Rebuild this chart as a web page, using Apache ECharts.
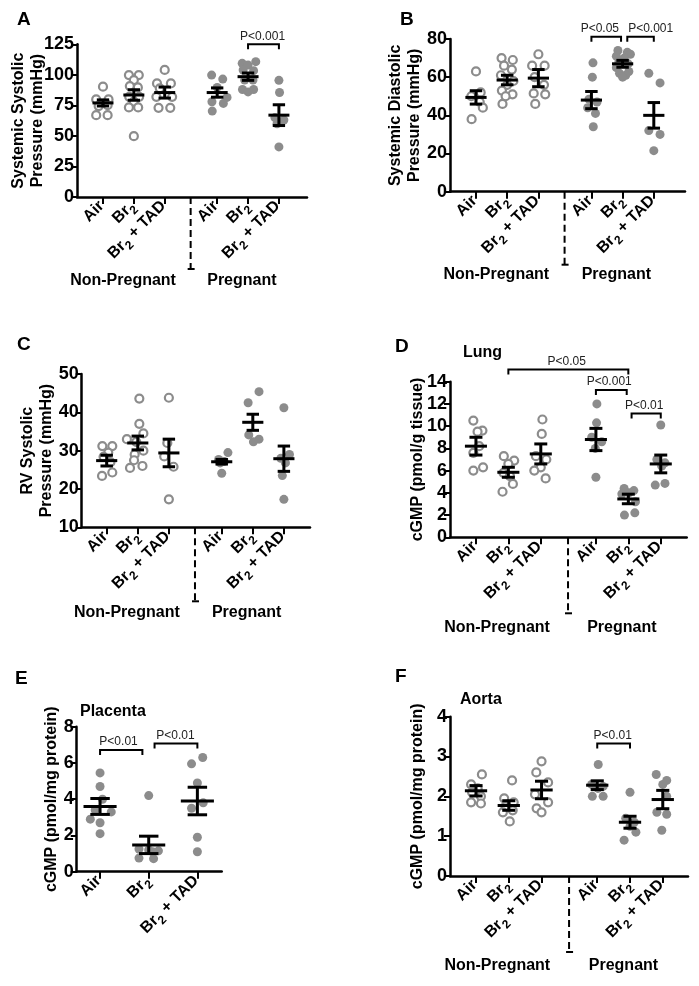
<!DOCTYPE html>
<html><head><meta charset="utf-8">
<script src="https://cdn.jsdelivr.net/npm/echarts@6/dist/echarts.min.js"></script>
<style>html,body{margin:0;padding:0;background:#fff}#c{width:699px;height:986px}</style>
</head><body><div id="c"></div>
<script>
// ---------------- DATA ----------------
const catLabels6 = ['Air', 'Br2', 'Br2 + TAD', 'Air', 'Br2', 'Br2 + TAD'];
const catLabels3 = ['Air', 'Br2', 'Br2 + TAD'];
const groupNames = ['Non-Pregnant', 'Pregnant'];

// Panel A: Systemic systolic pressure
const A_yAxis = [0, 125, 25];
const A_yName = 'Systemic Systolic\nPressure (mmHg)';
const A_values = [
  [90.3, 79.9, 79.9, 75.2, 74.4, 67, 67],
  [99.8, 99.8, 95.7, 90.8, 89.7, 82, 82, 78, 73.3, 73.3, 49.8],
  [104, 93, 93, 89, 82, 82, 73, 73],
  [99.8, 96.5, 89.7, 81.5, 78, 76.6, 70.3],
  [110.8, 109.4, 108, 104, 103.4, 95.7, 95.7, 88, 88, 86],
  [95.5, 85.5, 65, 63, 60, 41]
];
const A_jitter = [
  [0, -0.22, 0.18, 0.15, -0.14, -0.22, 0.15],
  [-0.16, 0.16, 0, -0.13, 0.13, -0.15, 0.17, 0, -0.16, 0.14, 0],
  [0, -0.25, 0.2, -0.16, 0.24, -0.27, -0.2, 0.18],
  [-0.18, 0.18, 0, 0.32, -0.17, 0.2, -0.16],
  [0.25, -0.19, 0, -0.16, 0.18, -0.11, 0.16, -0.18, 0.18, 0],
  [0, 0.02, -0.13, 0.16, -0.06, 0]
];
const A_mean = [77, 83.5, 85.5, 85.5, 98.5, 67];
const A_sem = [2.5, 4.3, 4.5, 3.8, 3.0, 8.5];
// [from, to, height, text, text centre]
const A_brackets = [[5.7, 6.7, 125, 'P<0.001', 6.17]];

// Panel B: Systemic diastolic pressure
const B_yAxis = [0, 80, 20];
const B_yName = 'Systemic Diastolic\nPressure (mmHg)';
const B_values = [
  [63, 52, 50, 47, 44, 38],
  [70, 69, 66, 64, 61, 58, 56, 53, 51, 50, 46],
  [72, 66, 66, 60, 56, 51.5, 51, 46],
  [67.5, 60, 48.5, 47, 44, 41, 34],
  [74, 73, 72, 71, 70, 68, 67, 65, 63, 62, 61, 60],
  [62, 57, 32, 30, 21.5]
];
const B_jitter = [
  [0, 0.15, -0.15, 0.12, 0.22, -0.14],
  [-0.18, 0.18, -0.1, 0.15, -0.2, 0.2, 0, -0.17, 0.17, -0.05, -0.15],
  [0, -0.2, 0.2, -0.12, 0.18, -0.15, 0.22, -0.1],
  [0.05, 0.03, -0.08, 0.18, -0.12, 0.13, 0.06],
  [-0.15, 0.15, 0.25, -0.2, 0.05, -0.12, 0.18, -0.2, 0.2, -0.1, 0.1, 0],
  [-0.16, 0.2, -0.16, 0.2, 0]
];
const B_mean = [49.4, 58.5, 59.5, 48, 67, 40];
const B_sem = [3.5, 2.5, 4.5, 4.5, 1.8, 6.7];
const B_brackets = [[4.7, 5.65, 81.2, 'P<0.05', 4.97], [5.85, 6.7, 81.2, 'P<0.001', 6.6]];

// Panel C: RV systolic pressure
const C_yAxis = [10, 50, 10];
const C_yName = 'RV Systolic\nPressure (mmHg)';
const C_values = [
  [31.2, 31.2, 29.5, 28.4, 27, 24.3, 23.4],
  [43.6, 37, 34.5, 33, 32.3, 30, 29, 27.5, 26, 25.5],
  [43.8, 32, 28.5, 25.8, 17.3],
  [29.5, 27.7, 27.2, 26.8, 24.1],
  [45.4, 42.5, 34.1, 33, 32.3],
  [41.2, 29, 28, 26.8, 23.5, 17.3]
];
const C_jitter = [
  [-0.14, 0.18, 0.05, -0.1, 0.12, 0.18, -0.15],
  [0.05, 0.05, 0.18, -0.35, -0.05, 0.18, -0.1, -0.12, 0.15, -0.25],
  [0, -0.05, -0.15, 0.15, 0],
  [0.2, -0.1, 0.08, -0.05, 0],
  [0.2, -0.15, -0.13, 0.2, 0.02],
  [0, 0.18, -0.1, 0.05, -0.05, 0]
];
const C_mean = [27.4, 32, 29.4, 27.1, 37.4, 27.9];
const C_sem = [1.4, 1.8, 3.6, 0.6, 2.1, 3.3];
const C_brackets = [];

// Panel D: Lung cGMP
const D_yAxis = [0, 14, 2];
const D_yName = 'cGMP (pmol/g tissue)';
const D_title = 'Lung';
const D_values = [
  [10.5, 9.6, 9.5, 8.2, 7.6, 6.3, 6.0],
  [7.3, 6.9, 6.6, 5.8, 5.5, 4.8, 4.1],
  [10.6, 9.3, 7.3, 7.0, 6.3, 6.0, 5.3],
  [12, 10.3, 9.0, 8.6, 8.0, 5.4],
  [4.4, 4.2, 4.0, 3.9, 3.2, 2.2, 2.0],
  [10.1, 7.0, 6.7, 6.4, 4.85, 4.7]
];
const D_jitter = [
  [-0.08, 0.2, 0.05, 0.1, -0.08, 0.22, -0.08],
  [-0.14, 0.18, 0, -0.15, 0.05, 0.14, -0.18],
  [0.05, 0.03, -0.15, 0.17, 0, -0.2, 0.15],
  [0.03, 0.02, -0.13, 0.18, -0.02, 0],
  [-0.13, 0.17, 0.02, -0.2, 0.22, 0.2, -0.12],
  [0, -0.12, 0.13, 0.03, 0.13, -0.17]
];
const D_mean = [8.2, 5.85, 7.5, 8.8, 3.45, 6.6];
const D_sem = [0.8, 0.45, 0.9, 1.0, 0.43, 0.8];
const D_brackets = [[2, 5.7, 15.1, 'P<0.05', 3.8], [4.7, 5.65, 13.25, 'P<0.001', 5.11], [5.8, 6.7, 11.15, 'P<0.01', 6.19]];

// Panel E: Placenta cGMP
const E_yAxis = [0, 8, 2];
const E_yName = 'cGMP (pmol/mg protein)';
const E_title = 'Placenta';
const E_values = [
  [5.45, 4.7, 4.0, 3.4, 3.3, 2.9, 2.7, 2.1],
  [4.2, 1.25, 1.2, 1.15, 1.1, 0.75, 0.72],
  [6.3, 5.95, 4.9, 3.8, 3.5, 1.9, 1.1]
];
const E_jitter = [
  [0, 0, 0.05, -0.1, 0.23, -0.2, 0, 0],
  [0, -0.2, 0, 0.2, 0.08, -0.2, 0.1],
  [0.11, -0.12, 0, 0.12, -0.12, 0, 0]
];
const E_mean = [3.6, 1.48, 3.9];
const E_sem = [0.44, 0.48, 0.76];
const E_brackets = [[1, 1.87, 6.71, 'P<0.01', 1.38], [2.12, 3, 7.08, 'P<0.01', 2.55]];

// Panel F: Aorta cGMP
const F_yAxis = [0, 4, 1];
const F_yName = 'cGMP (pmol/mg protein)';
const F_title = 'Aorta';
const F_values = [
  [2.55, 2.3, 2.2, 2.1, 2.0, 1.85, 1.82],
  [2.4, 1.95, 1.85, 1.75, 1.65, 1.6, 1.37],
  [2.88, 2.6, 2.35, 2.05, 1.85, 1.7, 1.6],
  [2.8, 2.3, 2.25, 2.2, 2.0, 2.0],
  [2.1, 1.45, 1.35, 1.25, 1.1, 0.9],
  [2.55, 2.4, 2.3, 2.0, 1.6, 1.55, 1.15]
];
const F_jitter = [
  [0.18, -0.15, 0.05, -0.12, 0.15, -0.15, 0.15],
  [0.1, -0.14, 0.15, -0.1, 0.12, -0.18, 0.03],
  [0, -0.16, 0.2, -0.2, 0.2, -0.15, 0],
  [0.03, -0.17, 0.18, 0.02, -0.15, 0.18],
  [0, -0.13, 0.13, 0, 0.18, -0.18],
  [-0.2, 0.12, 0, 0.12, -0.18, 0.12, -0.03]
];
const F_mean = [2.14, 1.77, 2.16, 2.28, 1.35, 1.92];
const F_sem = [0.13, 0.12, 0.22, 0.11, 0.15, 0.23];
const F_brackets = [[4.7, 5.7, 3.33, 'P<0.01', 5.17]];

// ---------------- LAYOUT / STYLE ----------------
const FONT = '"Liberation Sans", Arial, Helvetica, sans-serif';
const GRAY = '#8c8c8c';
const POS6 = [1, 2, 3, 4.7, 5.7, 6.7];
const POS3 = [1, 2, 3];
const SEP = 3.84;
const GROUP_X = [1.65, 5.5];
const MEAN_HW = 0.34, CAP_HW = 0.2;

const panels = [
  {letter: 'A', values: A_values, jitter: A_jitter, mean: A_mean, sem: A_sem, brackets: A_brackets, yAxis: A_yAxis, yName: A_yName, title: null,
   L: {grid: [77, 44.3, 230, 152.7], x: [0.158, 7.61], nameGap: 30, letterPos: [17, 10], sepLen: 72, groupDy: 84}},
  {letter: 'B', values: B_values, jitter: B_jitter, mean: B_mean, sem: B_sem, brackets: B_brackets, yAxis: B_yAxis, yName: B_yName, title: null,
   L: {grid: [450, 39, 235, 152.7], x: [0.167, 7.70], nameGap: 26, letterPos: [400, 10], sepLen: 73, groupDy: 83}},
  {letter: 'C', values: C_values, jitter: C_jitter, mean: C_mean, sem: C_sem, brackets: C_brackets, yAxis: C_yAxis, yName: C_yName, title: null,
   L: {grid: [81.7, 374, 228.3, 153.3], x: [0.196, 7.54], nameGap: 26, letterPos: [17, 335], sepLen: 74, groupDy: 85}},
  {letter: 'D', values: D_values, jitter: D_jitter, mean: D_mean, sem: D_sem, brackets: D_brackets, yAxis: D_yAxis, yName: D_yName, title: D_title,
   L: {grid: [450, 381.7, 236.7, 155.6], x: [0.2, 7.5], nameGap: 23, letterPos: [395, 337], titlePos: [463, 345], sepLen: 76, groupDy: 90}},
  {letter: 'E', values: E_values, jitter: E_jitter, mean: E_mean, sem: E_sem, brackets: E_brackets, yAxis: E_yAxis, yName: E_yName, title: E_title,
   L: {grid: [76.7, 726.7, 145, 145], x: [0.52, 3.5], nameGap: 16, letterPos: [15, 669], titlePos: [80, 704]}},
  {letter: 'F', values: F_values, jitter: F_jitter, mean: F_mean, sem: F_sem, brackets: F_brackets, yAxis: F_yAxis, yName: F_yName, title: F_title,
   L: {grid: [450, 716.7, 238, 159.3], x: [0.206, 7.47], nameGap: 23, letterPos: [395, 667], titlePos: [460, 692], sepLen: 76, groupDy: 90}}
];

const RICH = {
  b: {fontSize: 16, fontWeight: 'bold', color: '#000', fontFamily: FONT, verticalAlign: 'bottom', padding: [0, 0, 4, 0]},
  s: {fontSize: 12, fontWeight: 'bold', color: '#000', fontFamily: FONT, verticalAlign: 'bottom'}
};
function fmtLabel(t) {
  return t.split('Br2').map(function (seg) { return seg ? '{b|' + seg + '}' : ''; }).join('{b|Br}{s|2}');
}
function nearest(arr, v) {
  let bi = 0, bd = Infinity;
  arr.forEach(function (a, i) { const d = Math.abs(a - v); if (d < bd) { bd = d; bi = i; } });
  return bi;
}

const option = {animation: false, backgroundColor: '#fff', title: [], grid: [], xAxis: [], yAxis: [], series: []};

panels.forEach(function (p, i) {
  const L = p.L;
  const six = p.values.length === 6;
  const pos = six ? POS6 : POS3;
  const labels = six ? catLabels6 : catLabels3;

  option.title.push({text: p.letter, left: L.letterPos[0], top: L.letterPos[1], padding: 0,
    textStyle: {fontSize: 19, fontWeight: 'bold', color: '#000', fontFamily: FONT}});
  if (p.title) option.title.push({text: p.title, left: L.titlePos[0], top: L.titlePos[1], padding: 0,
    textStyle: {fontSize: 16, fontWeight: 'bold', color: '#000', fontFamily: FONT}});

  option.grid.push({left: L.grid[0], top: L.grid[1], width: L.grid[2], height: L.grid[3], containLabel: false, outerBoundsMode: 'none'});

  option.xAxis.push({
    type: 'value', gridIndex: i, min: L.x[0], max: L.x[1], splitLine: {show: false},
    axisLine: {show: true, onZero: false, lineStyle: {color: '#000', width: 2.5}},
    axisTick: {show: true, customValues: pos, length: 7, lineStyle: {color: '#000', width: 2}},
    axisLabel: {show: true, customValues: pos, rotate: 45, margin: 8, color: '#000',
      formatter: function (v) { return fmtLabel(labels[nearest(pos, v)]); }, rich: RICH}
  });
  option.yAxis.push({
    type: 'value', gridIndex: i, min: p.yAxis[0], max: p.yAxis[1], interval: p.yAxis[2], splitLine: {show: false},
    axisLine: {show: true, onZero: false, lineStyle: {color: '#000', width: 2.5}},
    axisTick: {show: true, length: 6, lineStyle: {color: '#000', width: 2}},
    axisLabel: {color: '#000', fontSize: 18, fontWeight: 'bold', fontFamily: FONT, margin: 3},
    name: p.yName, nameLocation: 'middle', nameGap: L.nameGap, nameMoveOverlap: false,
    nameTextStyle: {color: '#000', fontSize: 16, fontWeight: 'bold', fontFamily: FONT, lineHeight: 19}
  });

  const hollow = [], filled = [];
  p.values.forEach(function (arr, g) {
    arr.forEach(function (v, k) {
      const pt = [pos[g] + p.jitter[g][k], v];
      if (six && g < 3) hollow.push(pt); else filled.push(pt);
    });
  });
  if (hollow.length) option.series.push({type: 'scatter', xAxisIndex: i, yAxisIndex: i, data: hollow, symbol: 'circle', symbolSize: 8,
    itemStyle: {color: '#fff', borderColor: GRAY, borderWidth: 2.2, opacity: 1}, silent: true, z: 2});
  option.series.push({type: 'scatter', xAxisIndex: i, yAxisIndex: i, data: filled, symbol: 'circle', symbolSize: 9,
    itemStyle: {color: GRAY, opacity: 1}, silent: true, z: 2});

  // mean +/- SEM
  option.series.push({type: 'custom', xAxisIndex: i, yAxisIndex: i, silent: true, z: 4,
    data: p.mean.map(function (m, g) { return [pos[g], m, p.sem[g]]; }),
    renderItem: function (params, api) {
      const x = api.value(0), m = api.value(1), s = api.value(2);
      const c = api.coord([x, m]), t = api.coord([x, m + s]), b = api.coord([x, m - s]);
      const hw = api.size([MEAN_HW, 0])[0], cw = api.size([CAP_HW, 0])[0];
      const st = function () { return {stroke: '#000', lineWidth: 3}; };
      return {type: 'group', children: [
        {type: 'line', shape: {x1: c[0] - hw, y1: c[1], x2: c[0] + hw, y2: c[1]}, style: st()},
        {type: 'line', shape: {x1: c[0], y1: t[1], x2: c[0], y2: b[1]}, style: st()},
        {type: 'line', shape: {x1: c[0] - cw, y1: t[1], x2: c[0] + cw, y2: t[1]}, style: st()},
        {type: 'line', shape: {x1: c[0] - cw, y1: b[1], x2: c[0] + cw, y2: b[1]}, style: st()}
      ]};
    }});

  // significance brackets
  if (p.brackets.length) option.series.push({type: 'custom', xAxisIndex: i, yAxisIndex: i, silent: true, z: 5, clip: false,
    data: p.brackets.map(function (b) { return [b[0], b[1], b[2], b[4]]; }),
    renderItem: function (params, api) {
      const a = api.coord([api.value(0), api.value(2)]), b = api.coord([api.value(1), api.value(2)]);
      const tc = api.coord([api.value(3), api.value(2)]);
      const txt = p.brackets[params.dataIndex][3];
      return {type: 'group', children: [
        {type: 'polyline', shape: {points: [[a[0], a[1] + 5], [a[0], a[1]], [b[0], b[1]], [b[0], b[1] + 5]]},
          style: {stroke: '#000', lineWidth: 2, fill: null}},
        {type: 'text', x: tc[0], y: a[1] - 2,
          style: {text: txt, fill: '#222', font: '12px ' + FONT, align: 'center', verticalAlign: 'bottom'}}
      ]};
    }});

  // group separator and group labels
  if (six) option.series.push({type: 'custom', xAxisIndex: i, yAxisIndex: i, silent: true, z: 5, clip: false,
    data: [[SEP, p.yAxis[0]]],
    renderItem: function (params, api) {
      const o = api.coord([api.value(0), api.value(1)]);
      const g0 = api.coord([GROUP_X[0], api.value(1)]), g1 = api.coord([GROUP_X[1], api.value(1)]);
      const tf = 'bold 16px ' + FONT;
      return {type: 'group', children: [
        {type: 'line', shape: {x1: o[0], y1: o[1], x2: o[0], y2: o[1] + L.sepLen}, style: {stroke: '#000', lineWidth: 2, lineDash: [7, 4]}},
        {type: 'line', shape: {x1: o[0] - 3, y1: o[1] + L.sepLen, x2: o[0] + 4, y2: o[1] + L.sepLen}, style: {stroke: '#000', lineWidth: 2}},
        {type: 'text', x: g0[0], y: g0[1] + L.groupDy, style: {text: groupNames[0], fill: '#000', font: tf, align: 'center', verticalAlign: 'middle'}},
        {type: 'text', x: g1[0], y: g1[1] + L.groupDy, style: {text: groupNames[1], fill: '#000', font: tf, align: 'center', verticalAlign: 'middle'}}
      ]};
    }});
});

const chart = echarts.init(document.getElementById('c'), null, {renderer: 'canvas'});
chart.setOption(option);
</script></body></html>
